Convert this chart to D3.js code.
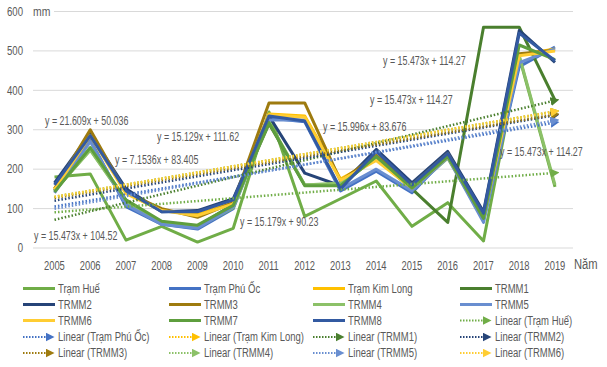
<!DOCTYPE html>
<html>
<head>
<meta charset="utf-8">
<script src="https://cdn.jsdelivr.net/npm/d3@7/dist/d3.min.js"></script>
<style>
  body { margin: 0; background: #fff; }
  text { font-family: "Liberation Sans", Arial, sans-serif; fill: #595959; }
</style>
</head>
<body>
<svg id="chart" width="607" height="367"></svg>
<script>
"use strict";

var years = [2005, 2006, 2007, 2008, 2009, 2010, 2011, 2012, 2013, 2014, 2015, 2016, 2017, 2018, 2019];
var yTicks = [0, 100, 200, 300, 400, 500, 600];

var seriesNames = ["Trạm Huế", "Trạm Phú Ốc", "Trạm Kim Long", "TRMM1", "TRMM2", "TRMM3",
                   "TRMM4", "TRMM5", "TRMM6", "TRMM7", "TRMM8"];
var seriesColors = ["#70ad47", "#4472c4", "#ffc000", "#4a7f2e", "#264478", "#9e7b0f",
                    "#8cc168", "#698ed0", "#ffcd33", "#5e9e3e", "#335aa1"];

var hue     = [180, 188, 20, 55, 15, 50, 345, 80, 125, 170, 55, 115, 18, 485, 155];
var phuOc   = [145, 275, 105, 60, 48, 100, 330, 320, 145, 195, 140, 235, 70, 460, 510];
var kimLong = [150, 290, 140, 95, 85, 115, 340, 335, 175, 225, 155, 235, 80, 490, 505];
var trmm1   = [145, 250, 120, 65, 55, 110, 315, 160, 160, 230, 150, 65, 560, 560, 375];
var trmm2   = [165, 290, 150, 92, 95, 125, 335, 190, 158, 250, 165, 245, 92, 552, 471];
var trmm3   = [150, 300, 140, 100, 78, 115, 368, 368, 170, 235, 160, 240, 80, 493, 502];
var trmm4   = [145, 248, 118, 62, 52, 102, 320, 160, 165, 228, 148, 228, 72, 488, 160];
var trmm5   = [140, 270, 110, 60, 50, 105, 325, 325, 150, 200, 145, 230, 65, 470, 505];
var trmm6   = [148, 285, 138, 95, 82, 112, 338, 332, 172, 222, 152, 232, 78, 488, 500];
var trmm7   = [142, 255, 122, 68, 58, 108, 318, 158, 158, 232, 152, 232, 75, 515, 478];
var trmm8   = [160, 285, 145, 92, 92, 122, 335, 322, 150, 245, 160, 240, 88, 545, 475];
var seriesValues = [hue, phuOc, kimLong, trmm1, trmm2, trmm3, trmm4, trmm5, trmm6, trmm7, trmm8];

// trendlines: index into series, slope, intercept (x = 1..15)
var trendOf         = [0, 1, 2, 3, 4, 5, 6, 7, 8];
var trendSlopes     = [7.1536, 15.179, 15.473, 21.609, 15.473, 15.129, 15.473, 15.996, 15.473];
var trendIntercepts = [83.405, 90.23, 114.27, 50.036, 104.52, 111.62, 114.27, 83.676, 114.27];

var eqTexts = ["y = 21.609x + 50.036", "y = 7.1536x + 83.405", "y = 15.129x + 111.62",
               "y = 15.473x + 104.52", "y = 15.179x + 90.23", "y = 15.996x + 83.676",
               "y = 15.473x + 114.27", "y = 15.473x + 114.27", "y = 15.473x + 114.27"];
var eqX = [45, 115, 157, 34, 240, 323, 383, 370, 500];
var eqY = [121, 160, 137, 236, 222, 127, 61, 100, 152];

var legendNames = seriesNames.concat(trendOf.map(function (i) { return "Linear (" + seriesNames[i] + ")"; }));

// squeeze a text horizontally, the reference font is narrow
function condense(sel, k) {
    sel.each(function () {
        var w = this.getComputedTextLength();
        d3.select(this).attr("textLength", w * k).attr("lengthAdjust", "spacingAndGlyphs");
    });
}

var svg = d3.select("#chart");
var x = d3.scalePoint().domain(years).range([54.5, 555]);
var y = d3.scaleLinear().domain([0, 600]).range([248, 11.5]);

// grid
svg.append("g").selectAll("line")
    .data(yTicks)
    .enter()
    .append("line")
    .attr("x1", function (d) { return d === 600 ? 54 : 33; })
    .attr("x2", 573)
    .attr("y1", function (d) { return y(d); })
    .attr("y2", function (d) { return y(d); })
    .attr("stroke", "#d9d9d9")
    .attr("stroke-width", 1);

svg.append("g").selectAll("text")
    .data(yTicks)
    .enter()
    .append("text")
    .attr("x", 23)
    .attr("y", function (d) { return y(d); })
    .attr("dy", "0.35em")
    .attr("text-anchor", "end")
    .attr("font-size", 12)
    .text(function (d) { return d; })
    .call(condense, 0.8);

svg.append("text").attr("x", 33).attr("y", y(600)).attr("dy", "0.35em")
    .attr("font-size", 13).text("mm").call(condense, 0.8);

svg.append("g").selectAll("text")
    .data(years)
    .enter()
    .append("text")
    .attr("x", function (d) { return x(d) - 10.5; })
    .attr("y", 270)
    .attr("font-size", 12)
    .text(function (d) { return d; })
    .call(condense, 0.78);

svg.append("text").attr("x", 574).attr("y", 269).attr("font-size", 14).text("Năm").call(condense, 0.8);

// arrow markers for trendlines
var defs = svg.append("defs");
trendOf.forEach(function (s, k) {
    defs.append("marker")
        .attr("id", "arr" + k)
        .attr("viewBox", "0 0 10 10")
        .attr("refX", 5).attr("refY", 5)
        .attr("markerWidth", 9).attr("markerHeight", 9)
        .attr("markerUnits", "userSpaceOnUse")
        .attr("orient", "auto")
        .append("path")
        .attr("d", "M0,0L10,5L0,10Z")
        .attr("fill", seriesColors[s]);
});

// series lines
var line = d3.line()
    .x(function (d, i) { return x(years[i]); })
    .y(function (d) { return y(d); });

svg.append("g").selectAll("path")
    .data(seriesValues)
    .enter()
    .append("path")
    .attr("d", line)
    .attr("fill", "none")
    .attr("stroke", function (d, i) { return seriesColors[i]; })
    .attr("stroke-width", 3)
    .attr("stroke-linejoin", "round");

// trendlines
svg.append("g").selectAll("path")
    .data(trendOf)
    .enter()
    .append("path")
    .attr("d", function (s, k) {
        var n = years.length;
        return "M" + x(years[0]) + "," + y(trendSlopes[k] + trendIntercepts[k]) +
               "L" + x(years[n - 1]) + "," + y(trendSlopes[k] * n + trendIntercepts[k]);
    })
    .attr("fill", "none")
    .attr("stroke", function (s) { return seriesColors[s]; })
    .attr("stroke-width", 2.5)
    .attr("stroke-dasharray", "1.5 2")
    .attr("marker-end", function (s, k) { return "url(#arr" + k + ")"; });

// equation labels
svg.append("g").selectAll("text")
    .data(eqTexts)
    .enter()
    .append("text")
    .attr("x", function (d, i) { return eqX[i]; })
    .attr("y", function (d, i) { return eqY[i]; })
    .attr("dy", "0.35em")
    .attr("font-size", 12.5)
    .text(function (d) { return d; })
    .call(condense, 0.71);

// legend
var colX = [23, 169, 313, 460];
var rowY = [288.5, 304.5, 320.5, 337, 353];
var leg = svg.append("g").selectAll("g")
    .data(legendNames)
    .enter()
    .append("g")
    .attr("transform", function (d, i) {
        return "translate(" + colX[i % 4] + "," + rowY[Math.floor(i / 4)] + ")";
    });

leg.append("line")
    .attr("x1", 0)
    .attr("x2", function (d, i) { return i < seriesNames.length ? 32 : 27; })
    .attr("y1", 0).attr("y2", 0)
    .attr("stroke", function (d, i) {
        return i < seriesNames.length ? seriesColors[i] : seriesColors[trendOf[i - seriesNames.length]];
    })
    .attr("stroke-width", function (d, i) { return i < seriesNames.length ? 3 : 2; })
    .attr("stroke-dasharray", function (d, i) { return i < seriesNames.length ? null : "1.5 1.5"; })
    .attr("marker-end", function (d, i) {
        return i < seriesNames.length ? null : "url(#arr" + (i - seriesNames.length) + ")";
    });

leg.append("text")
    .attr("x", 35)
    .attr("y", 0)
    .attr("dy", "0.35em")
    .attr("font-size", 12.5)
    .text(function (d) { return d; })
    .call(condense, 0.76);
</script>
</body>
</html>
